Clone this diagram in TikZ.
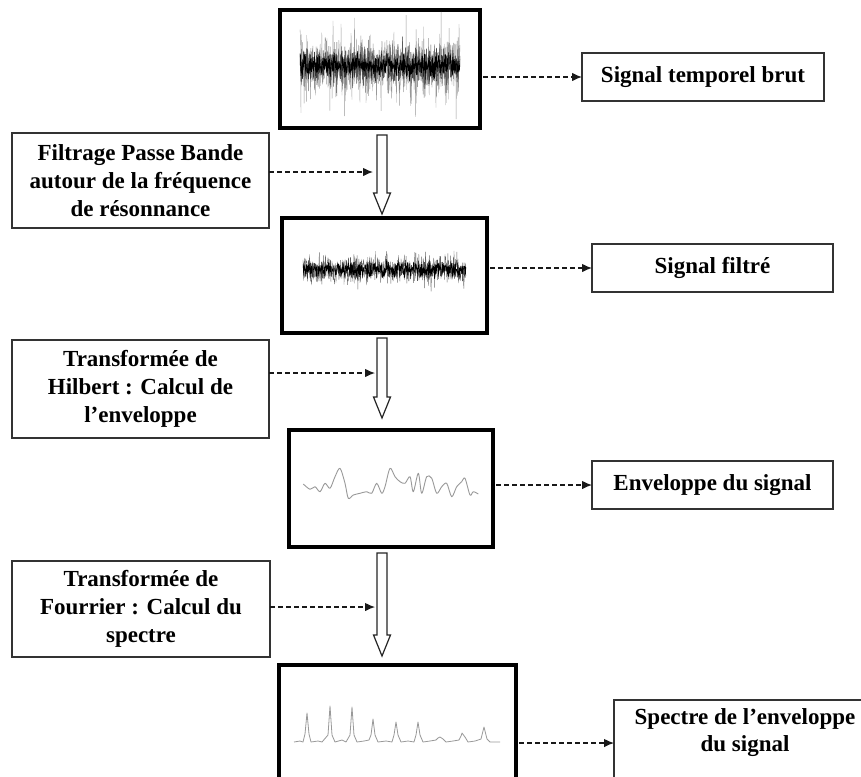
\documentclass[tikz,border=0pt]{standalone}
\usepackage{fontspec}
\setmainfont{Liberation Serif}
\usetikzlibrary{arrows.meta,calc}
\newcommand\hollowarr[2]{\draw[harrow] let \p1=(#1), \p2=(#2) in (\x1-5pt,\y1) -- (\x1+5pt,\y1) -- (\x1+5pt,\y2+21pt) -- (\x1+8.5pt,\y2+21pt) -- (\x1,\y2) -- (\x1-8.5pt,\y2+21pt) -- (\x1-5pt,\y2+21pt) -- cycle;}
\begin{document}
\begin{tikzpicture}[x=1pt,y=-1pt,
  bigbox/.style={draw=black, line width=3.5pt, inner sep=0pt, outer sep=0pt},
  txtbox/.style={draw=black!80, line width=1.3pt, align=center, inner sep=0pt, outer sep=0pt,
    font=\fontsize{23}{28}\selectfont\bfseries},
  txt/.style={align=center, inner sep=0pt, font=\fontsize{23}{27}\selectfont\bfseries},
  darrow/.style={draw=black!90, line width=1.1pt, dash pattern=on 4.5pt off 3.5pt,
    -{Latex[length=10pt,width=8.5pt]}},
  harrow/.style={draw=black!85, line width=1.2pt, fill=white},
  noisegray/.style={black!40, line width=0.35pt},
  noiseblack/.style={black, line width=0.35pt},
  trace/.style={black!40, line width=0.9pt, line join=round}]
\clip (0,0) rectangle (861,776);
\fill[white] (0,0) rectangle (861,776);
\pgfmathsetseed{4217}

% signal boxes
\node[bigbox, minimum width=200pt, minimum height=118pt] (B1) at (380,69) {};
\node[bigbox, minimum width=205pt, minimum height=115pt] (B2) at (384.5,275.5) {};
\node[bigbox, minimum width=204pt, minimum height=117pt] (B3) at (391,488.5) {};
\node[bigbox, minimum width=237pt, minimum height=140pt] (B4) at (397.5,735) {};

% raw signal
\draw[noisegray] plot[domain=300:460, samples=500, variable=\t] (\t, {66 + 22*(rand+rand+rand)/(1+0.4*rnd)});
\draw[black!65, line width=0.35pt] plot[domain=300:460, samples=600, variable=\t] (\t, {66 + 11*(rand+rand+rand)});
\draw[noiseblack] plot[domain=300:460, samples=900, variable=\t] (\t, {66 + 7*(rand+rand+rand)});

% filtered signal
\draw[black!60, line width=0.35pt] plot[domain=303:466, samples=450, variable=\t] (\t, {270 + 8*(rand+rand+rand)});
\draw[noiseblack] plot[domain=303:466, samples=900, variable=\t] (\t, {270 + 4.5*(rand+rand+rand)});

% envelope
\draw[trace] plot[smooth, tension=0.5] coordinates {(303.3,484) (310,489.3) (315,486.7) (320,491.7) (325,483.3) (330,488.3) (335,476.7) (340,468.3) (345,483.3) (348.3,498.3) (353.3,495) (360,493.3) (366.7,491.7) (371.7,493.3) (376.7,483.3) (381.7,493.3) (385,486.7) (390,468.3) (395,476.7) (400,481.7) (405,483.3) (410,476.7) (413.3,491.7) (418.3,473.3) (421.7,493.3) (426.7,476.7) (431.7,478.3) (436.7,493.3) (441.7,486.7) (446.7,483.3) (451.7,496.7) (456.7,486.7) (461.7,481.7) (465,478.3) (470,495) (473.3,491.7) (478.3,494)};

% spectrum
\draw[trace, line width=0.8pt] (294,742) -- (300,741) -- (303,742) -- (305,734) -- (307,713) -- (309,734) -- (311,742)
  -- (318,741) -- (322,742) -- (328,735) -- (330,706) -- (332,735) -- (335,742)
  -- (342,740) -- (346,742) -- (350,735) -- (352,707) -- (354,735) -- (357,742)
  -- (364,741) -- (369,740) -- (371,735) -- (373,719) -- (375,735) -- (378,742)
  -- (386,741) -- (392,742) -- (394,735) -- (396,722) -- (398,735) -- (401,742)
  -- (408,741) -- (414,742) -- (416,735) -- (418,722) -- (420,735) -- (423,742)
  -- (430,741) -- (436,740) -- (438,738) -- (440,737) -- (443,739) -- (446,742)
  -- (453,741) -- (459,740) -- (461,736) -- (462,733) -- (465,737) -- (468,742)
  -- (475,741) -- (481,739) -- (484,727) -- (487,739) -- (490,742) -- (500,742);

% text boxes
\node[txtbox, minimum width=257pt, minimum height=95pt] (L1) at (140.5,180.5)
  {Filtrage Passe Bande\\autour de la fréquence\\de résonnance};
\node[txtbox, minimum width=257pt, minimum height=98pt] (L2) at (140.5,389)
  {Transformée de\\Hilbert : Calcul de\\l’enveloppe};
\node[txtbox, minimum width=258pt, minimum height=96pt] (L3) at (141,609)
  {Transformée de\\Fourrier : Calcul du\\spectre};
\node[txtbox, minimum width=242pt, minimum height=48pt] (R1) at (703,77) {Signal temporel brut};
\node[txtbox, minimum width=241pt, minimum height=48pt] (R2) at (712.5,268) {Signal filtré};
\node[txtbox, minimum width=241pt, minimum height=48pt] (R3) at (712.5,485) {Enveloppe du signal};
\node[txtbox, minimum width=260pt, minimum height=120pt, anchor=north west] (R4) at (614,700) {};
\node[txt] (R4t) at (745,733) {Spectre de l’enveloppe\\du signal};

% hollow arrows
\coordinate (col) at (382,0);
\coordinate (a1s) at ($(B1.south -| col)+(0,7)$);
\coordinate (a1e) at ($(B2.north -| col)+(0,-4)$);
\coordinate (a2s) at ($(B2.south -| col)+(0,5)$);
\coordinate (a2e) at ($(B3.north -| col)+(0,-12)$);
\coordinate (a3s) at ($(B3.south -| col)+(0,6)$);
\coordinate (a3e) at ($(B4.north -| col)+(0,-9)$);
\hollowarr{a1s}{a1e}
\hollowarr{a2s}{a2e}
\hollowarr{a3s}{a3e}

% dashed arrows from left
\coordinate (t1) at (373,172);
\coordinate (t2) at (375,373);
\coordinate (t3) at (375,607);
\draw[darrow] (L1.east |- t1) -- (t1);
\draw[darrow] (L2.east |- t2) -- (t2);
\draw[darrow] (L3.east |- t3) -- (t3);

% dashed arrows to right
\coordinate (t4) at ($(R4.north west)+(0,43)$);
\draw[darrow] ($(B1.east |- R1.west)+(3,0)$) -- (R1.west);
\draw[darrow] ($(B2.east |- R2.west)+(3,0)$) -- (R2.west);
\draw[darrow] ($(B3.east |- R3.west)+(3,0)$) -- (R3.west);
\draw[darrow] ($(B4.east |- t4)+(3,0)$) -- (t4);
\end{tikzpicture}
\end{document}
